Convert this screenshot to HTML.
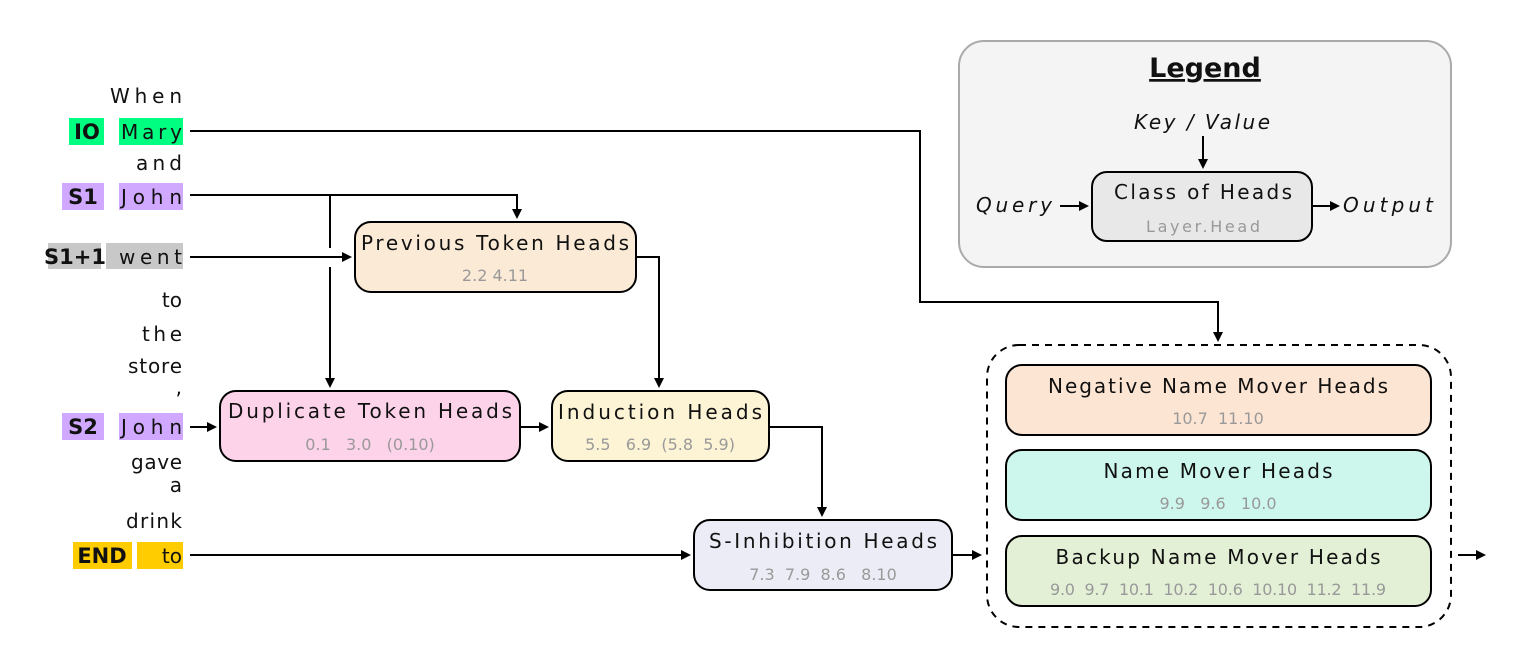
<!DOCTYPE html>
<html><head><meta charset="utf-8"><style>
html,body{margin:0;padding:0;background:#fff;}
svg{display:block;font-family:"DejaVu Sans","Liberation Sans",sans-serif;}
.t{font-size:20px;fill:#111;}
.n{font-size:16px;fill:#999;}
.w{font-size:20px;fill:#111;text-anchor:end;}
.b{font-size:21px;font-weight:bold;fill:#111;text-anchor:middle;}
.ln{stroke:#000;stroke-width:2;fill:none;}
</style></head><body>
<svg width="1520" height="654" viewBox="0 0 1520 654" xmlns="http://www.w3.org/2000/svg">
<defs><marker id="a" markerWidth="10" markerHeight="10" refX="8" refY="5" orient="auto" markerUnits="userSpaceOnUse"><path d="M0,0 L10,5 L0,10 z" fill="#000"/></marker></defs>

<!-- Legend -->
<rect x="959" y="41" width="492" height="226" rx="25" fill="#f4f4f4" stroke="#aaa" stroke-width="2"/>
<text x="1205" y="77" class="b" style="font-size:27px;text-decoration:underline">Legend</text>
<text x="1202" y="129" class="t" text-anchor="middle" font-style="italic" textLength="136">Key / Value</text>
<line x1="1203" y1="136" x2="1203" y2="167" class="ln" marker-end="url(#a)"/>
<rect x="1092" y="172" width="220" height="69" rx="15" fill="#e8e8e8" stroke="#000" stroke-width="2"/>
<text x="1203" y="199" class="t" text-anchor="middle" textLength="178">Class of Heads</text>
<text x="1203" y="232" class="n" text-anchor="middle" textLength="114">Layer.Head</text>
<text x="976" y="212" class="t" font-style="italic" textLength="76">Query</text>
<line x1="1060" y1="206" x2="1087" y2="206" class="ln" marker-end="url(#a)"/>
<line x1="1313" y1="206" x2="1338" y2="206" class="ln" marker-end="url(#a)"/>
<text x="1343" y="212" class="t" font-style="italic" textLength="90">Output</text>

<!-- tokens -->
<rect x="69" y="118" width="35" height="27" fill="#00ff80"/><rect x="119" y="118" width="64" height="27" fill="#00ff80"/>
<rect x="62" y="183" width="42" height="27" fill="#d0a8ff"/><rect x="119" y="183" width="64" height="27" fill="#d0a8ff"/>
<rect x="48" y="243" width="53" height="26" fill="#c8c8c8"/><rect x="106" y="243" width="77" height="26" fill="#c8c8c8"/>
<rect x="62" y="413" width="42" height="27" fill="#d0a8ff"/><rect x="119" y="413" width="64" height="27" fill="#d0a8ff"/>
<rect x="73" y="542" width="59" height="27" fill="#ffcc00"/><rect x="137" y="542" width="46" height="27" fill="#ffcc00"/>
<text x="182" y="103" class="w" textLength="72">When</text>
<text x="87" y="139" class="b">IO</text><text x="182" y="139" class="w" textLength="61">Mary</text>
<text x="182" y="170" class="w" textLength="46">and</text>
<text x="83" y="204" class="b">S1</text><text x="182" y="204" class="w" textLength="61">John</text>
<text x="75" y="264" class="b">S1+1</text><text x="182" y="264" class="w" textLength="63">went</text>
<text x="182" y="307" class="w">to</text>
<text x="182" y="341" class="w" textLength="40">the</text>
<text x="182" y="373" class="w" textLength="54">store</text>
<text x="182" y="394" class="w">,</text>
<text x="83" y="434" class="b">S2</text><text x="182" y="434" class="w" textLength="61">John</text>
<text x="182" y="469" class="w" textLength="51">gave</text>
<text x="182" y="492" class="w">a</text>
<text x="182" y="528" class="w" textLength="56">drink</text>
<text x="102" y="563" class="b">END</text><text x="182" y="563" class="w">to</text>

<!-- connectors -->
<polyline points="190,131 920,131 920,302 1218,302 1218,340" class="ln" marker-end="url(#a)"/>
<polyline points="190,195 517,195 517,217" class="ln" marker-end="url(#a)"/>
<line x1="330" y1="195" x2="330" y2="248" class="ln"/>
<line x1="330" y1="267" x2="330" y2="386" class="ln" marker-end="url(#a)"/>
<line x1="190" y1="257" x2="350" y2="257" class="ln" marker-end="url(#a)"/>
<polyline points="636,257 659,257 659,386" class="ln" marker-end="url(#a)"/>
<line x1="190" y1="427" x2="215" y2="427" class="ln" marker-end="url(#a)"/>
<line x1="520" y1="427" x2="547" y2="427" class="ln" marker-end="url(#a)"/>
<polyline points="769,427 822,427 822,515" class="ln" marker-end="url(#a)"/>
<line x1="190" y1="555" x2="689" y2="555" class="ln" marker-end="url(#a)"/>
<line x1="952" y1="555" x2="980" y2="555" class="ln" marker-end="url(#a)"/>
<line x1="1458" y1="555" x2="1484" y2="555" class="ln" marker-end="url(#a)"/>

<!-- boxes -->
<rect x="355" y="222" width="281" height="70" rx="16" fill="#fbead6" stroke="#000" stroke-width="2"/>
<text x="495" y="250" class="t" text-anchor="middle" textLength="268">Previous Token Heads</text>
<text x="495" y="281" class="n" text-anchor="middle">2.2   4.11</text>

<rect x="220" y="391" width="300" height="70" rx="16" fill="#fdd3ea" stroke="#000" stroke-width="2"/>
<text x="370" y="418" class="t" text-anchor="middle" textLength="284">Duplicate Token Heads</text>
<text x="370" y="450" class="n" text-anchor="middle" xml:space="preserve">0.1   3.0   (0.10)</text>

<rect x="552" y="391" width="217" height="70" rx="16" fill="#fdf4d6" stroke="#000" stroke-width="2"/>
<text x="660" y="419" class="t" text-anchor="middle" textLength="204">Induction Heads</text>
<text x="660" y="450" class="n" text-anchor="middle" xml:space="preserve">5.5   6.9  (5.8  5.9)</text>

<rect x="694" y="520" width="258" height="70" rx="16" fill="#ececf6" stroke="#000" stroke-width="2"/>
<text x="823" y="548" class="t" text-anchor="middle" textLength="228">S-Inhibition Heads</text>
<text x="823" y="580" class="n" text-anchor="middle" xml:space="preserve">7.3  7.9  8.6   8.10</text>

<rect x="987" y="345" width="464" height="282" rx="32" fill="none" stroke="#000" stroke-width="2" stroke-dasharray="7,6"/>
<rect x="1006" y="365" width="425" height="70" rx="16" fill="#fde5d3" stroke="#000" stroke-width="2"/>
<text x="1218" y="393" class="t" text-anchor="middle" textLength="340">Negative Name Mover Heads</text>
<text x="1218" y="424" class="n" text-anchor="middle" xml:space="preserve">10.7  11.10</text>
<rect x="1006" y="450" width="425" height="70" rx="16" fill="#cdf6ec" stroke="#000" stroke-width="2"/>
<text x="1218" y="478" class="t" text-anchor="middle" textLength="229">Name Mover Heads</text>
<text x="1218" y="509" class="n" text-anchor="middle" xml:space="preserve">9.9   9.6   10.0</text>
<rect x="1006" y="536" width="425" height="70" rx="16" fill="#e3f0d6" stroke="#000" stroke-width="2"/>
<text x="1218" y="564" class="t" text-anchor="middle" textLength="325">Backup Name Mover Heads</text>
<text x="1218" y="595" class="n" text-anchor="middle" textLength="336" xml:space="preserve">9.0  9.7  10.1  10.2  10.6  10.10  11.2  11.9</text>
</svg>
</body></html>
